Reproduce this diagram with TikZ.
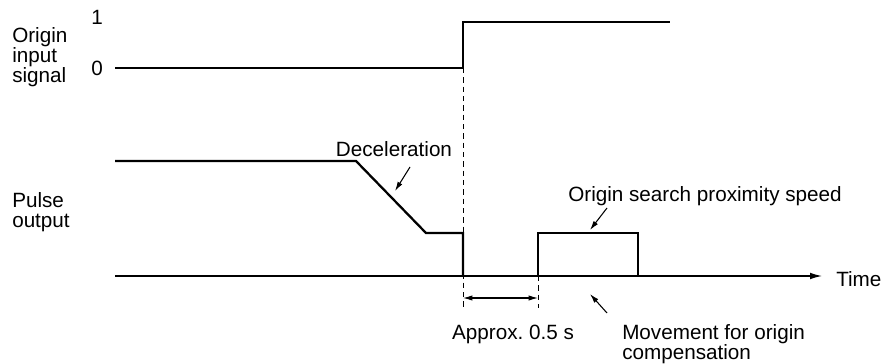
\documentclass[tikz,border=0pt]{standalone}
\usepackage{fontspec}
\setmainfont{Liberation Sans}
\usetikzlibrary{arrows.meta,positioning}
\frenchspacing

\begin{document}
\begin{tikzpicture}[x=0.75pt,y=-0.75pt,>=Latex,
    wave/.style={line width=1.7pt,line join=miter},
    axis/.style={line width=0.9pt},
    guide/.style={line width=0.6pt,dash pattern=on 4pt off 3pt},
    txt/.style={font=\fontsize{15.5}{15}\selectfont,inner sep=0pt},
    pointer/.style={-{Latex[length=7pt,width=4pt]},line width=0.8pt}]
    \useasboundingbox (0,0) rectangle (893,364);
    % signal names and levels
    \node[txt,align=left,anchor=north west] (siglbl) at (12,27) {Origin\\input\\signal};
    \node[txt,align=left,anchor=north west] (pulselbl) at (12,192) {Pulse\\output};
    \node[txt] (one) at (97,17) {1};
    \node[txt] (zero) at (97,68) {0};
    % origin input signal
    \coordinate (s0) at (115,68);
    \coordinate (srise) at (463,68);
    \coordinate (shigh) at (463,22);
    \coordinate (send) at (670,22);
    \draw[wave] (s0) -- (srise) -- (shigh) -- (send);
    % time axis
    \coordinate (ax0) at (115,276);
    \coordinate (axend) at (822,276);
    \draw[axis,-{Latex[length=9pt,width=5pt]}] (ax0) -- (axend);
    \node[txt,anchor=base west] (time) at (836,286) {Time};
    % pulse output
    \coordinate (p0) at (115,161);
    \coordinate (dstart) at (356,161);
    \coordinate (dend) at (426,233);
    \coordinate (pdrop) at (463,233);
    \coordinate (pzero) at (463,276);
    \coordinate (qstart) at (538,276);
    \coordinate (qtop) at (538,233);
    \coordinate (qtopend) at (638,233);
    \coordinate (qend) at (638,276);
    \draw[wave] (p0) -- (dstart) -- (dend) -- (pdrop) -- (pzero);
    \draw[wave] (qstart) -- (qtop) -- (qtopend) -- (qend);
    % guides and interval
    \coordinate (g1) at (463,308);
    \coordinate (g2) at (538,308);
    \draw[guide] (srise) -- (g1);
    \draw[guide] (qstart) -- (g2);
    \coordinate (d1) at (463,298);
    \coordinate (d2) at (538,298);
    \draw[line width=0.8pt,{Latex[length=7pt,width=4pt]}-{Latex[length=7pt,width=4pt]}] (d1) -- (d2);
    \node[txt,anchor=base] (approx) at (513,339) {Approx. 0.5 s};
    % annotations
    \node[txt,anchor=base] (decel) at (394,156) {Deceleration};
    \coordinate (dectail) at (410,167);
    \coordinate (dectip) at (395,191);
    \draw[pointer] (dectail) -- (dectip);
    \node[txt,anchor=base] (proxlbl) at (705,201) {Origin search proximity speed};
    \coordinate (proxtail) at (607,208);
    \coordinate (proxtip) at (590,230);
    \draw[pointer] (proxtail) -- (proxtip);
    \node[txt,font=\fontsize{15.5}{13.5}\selectfont,align=left,anchor=north west] (movelbl) at (622,324) {Movement for origin\\compensation};
    \coordinate (movetail) at (607,313);
    \coordinate (movetip) at (590,294);
    \draw[pointer] (movetail) -- (movetip);
\end{tikzpicture}
\end{document}
